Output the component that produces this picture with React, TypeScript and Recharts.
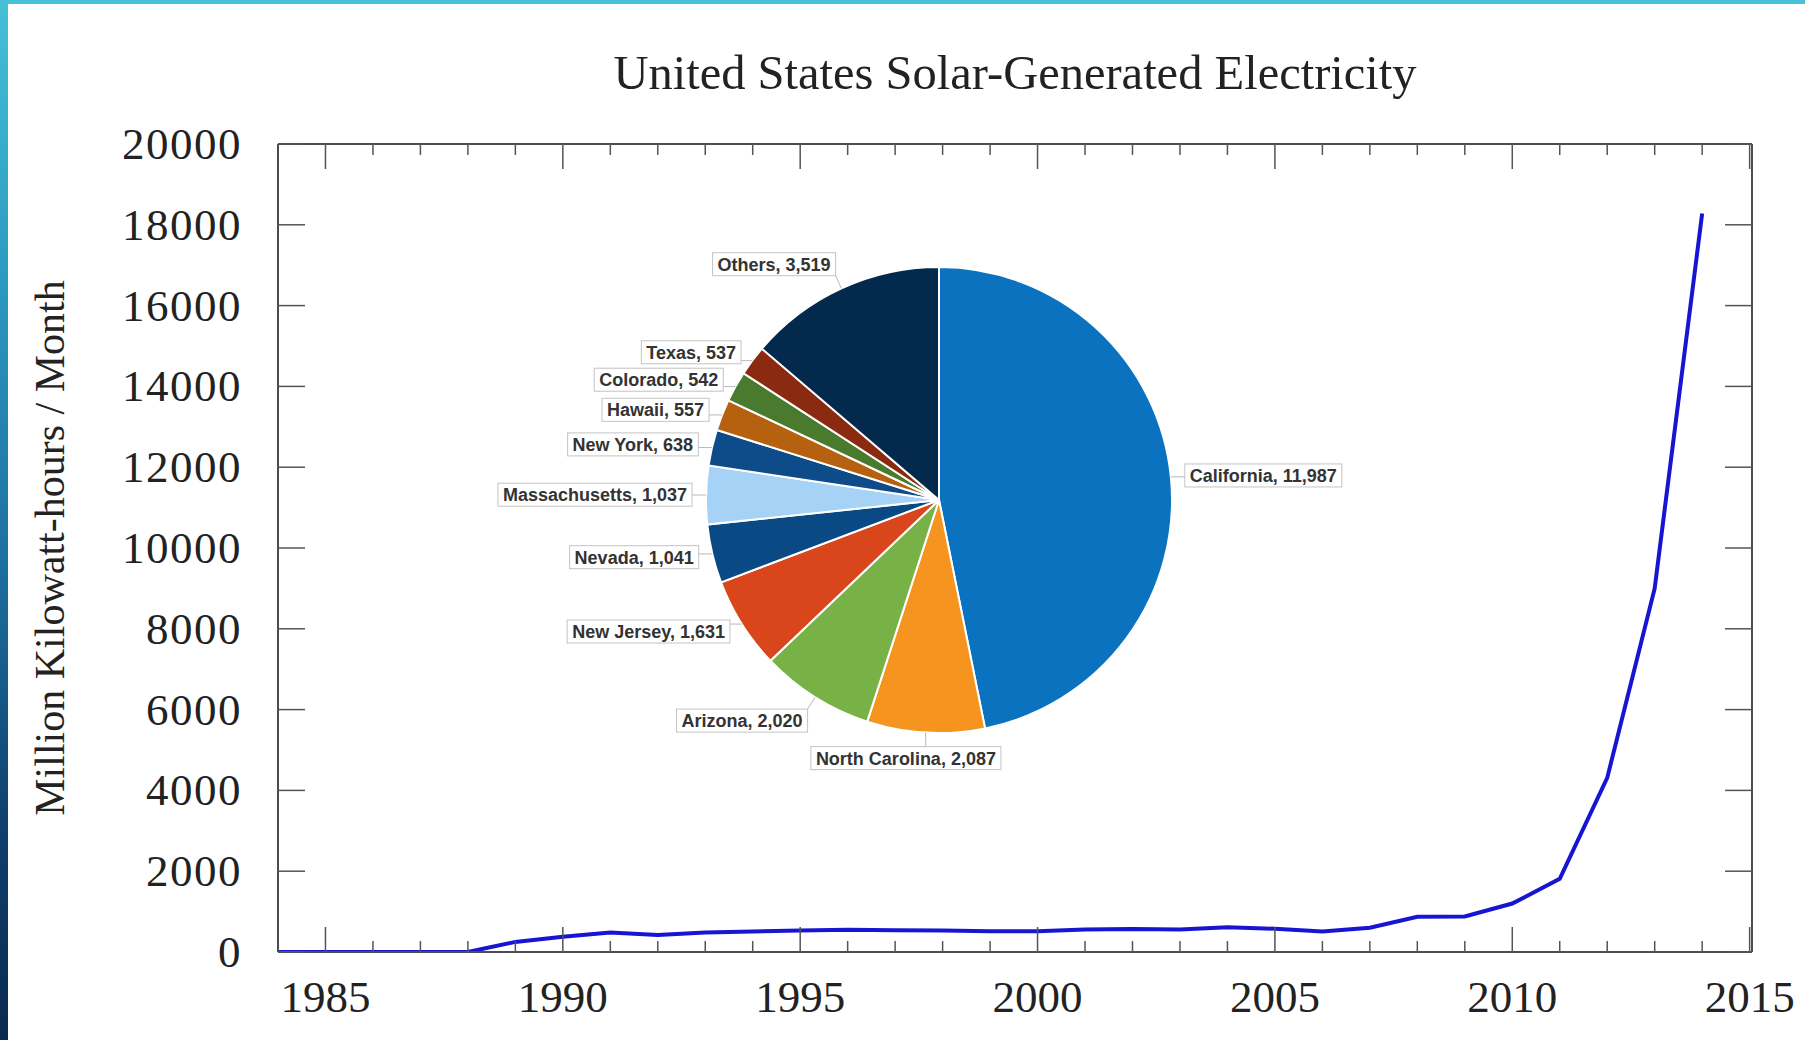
import React from 'react';
import { LineChart, Line, XAxis, YAxis, PieChart, Pie, Cell } from 'recharts';

// ---- Line series: US solar-generated electricity (million kWh / month)
const years = [1984, 1985, 1986, 1987, 1988, 1989, 1990, 1991, 1992, 1993, 1994, 1995, 1996, 1997, 1998, 1999, 2000, 2001, 2002, 2003, 2004, 2005, 2006, 2007, 2008, 2009, 2010, 2011, 2012, 2013, 2014];
const generation = [0, 0, 0, 0, 0, 250, 380, 480, 420, 480, 510, 530, 550, 540, 530, 515, 515, 555, 570, 555, 610, 575, 510, 600, 870, 880, 1200, 1810, 4310, 9000, 18280];

// ---- Axis ticks
const xTicks = [1985, 1986, 1987, 1988, 1989, 1990, 1991, 1992, 1993, 1994, 1995, 1996, 1997, 1998, 1999, 2000, 2001, 2002, 2003, 2004, 2005, 2006, 2007, 2008, 2009, 2010, 2011, 2012, 2013, 2014, 2015];
const xLabelYears = [1985, 1990, 1995, 2000, 2005, 2010, 2015];
const yTicks = [0, 2000, 4000, 6000, 8000, 10000, 12000, 14000, 16000, 18000, 20000];

// ---- Pie: generation by state
const states = ['California', 'North Carolina', 'Arizona', 'New Jersey', 'Nevada', 'Massachusetts', 'New York', 'Hawaii', 'Colorado', 'Texas', 'Others'];
const stateValues = [11987, 2087, 2020, 1631, 1041, 1037, 638, 557, 542, 537, 3519];
const stateColors = ['#0b72c0', '#f5941f', '#78b246', '#d9461b', '#0a4a84', '#a6d3f5', '#0d4c88', '#b5610f', '#4a7a2e', '#8a2a10', '#03294c'];

const TITLE = 'United States Solar-Generated Electricity';
const Y_LABEL = 'Million Kilowatt-hours / Month';

const lineData = years.map((y, i) => ({ year: y, value: generation[i] }));
const pieData = states.map((s, i) => ({ name: s, value: stateValues[i] }));

const SERIF = "'Liberation Serif', 'Times New Roman', serif";
const SANS = "'Liberation Sans', Arial, sans-serif";
const TICK_COLOR = '#555';
const TEXT_COLOR = '#222';

const W = 1805;
const H = 1040;

const BottomTick = (props: any) => {
  const { x, y, payload } = props;
  const major = xLabelYears.includes(payload.value);
  return (
    <g>
      <line x1={x} x2={x} y1={y} y2={y - (major ? 25 : 11)} stroke={TICK_COLOR} strokeWidth={1.5} />
      {major && (
        <text x={x} y={y + 60} textAnchor="middle" fontFamily={SERIF} fontSize={45} fill={TEXT_COLOR}>
          {payload.value}
        </text>
      )}
    </g>
  );
};

const TopTick = (props: any) => {
  const { x, y, payload } = props;
  const major = xLabelYears.includes(payload.value);
  return <line x1={x} x2={x} y1={y} y2={y + (major ? 25 : 11)} stroke={TICK_COLOR} strokeWidth={1.5} />;
};

const LeftTick = (props: any) => {
  const { x, y, payload } = props;
  return (
    <g>
      <line x1={x} x2={x + 27} y1={y} y2={y} stroke={TICK_COLOR} strokeWidth={1.5} />
      <text x={x - 36} y={y} dy={15} textAnchor="end" fontFamily={SERIF} fontSize={45} letterSpacing={1.5} fill={TEXT_COLOR}>
        {payload.value}
      </text>
    </g>
  );
};

const RightTick = (props: any) => {
  const { x, y } = props;
  return <line x1={x} x2={x - 27} y1={y} y2={y} stroke={TICK_COLOR} strokeWidth={1.5} />;
};

let measureCtx: CanvasRenderingContext2D | null = null;
const LABEL_FONT_SIZE = 18;
const measure = (text: string) => {
  if (!measureCtx) {
    const c = document.createElement('canvas');
    measureCtx = c.getContext('2d');
  }
  if (!measureCtx) return text.length * LABEL_FONT_SIZE * 0.55;
  measureCtx.font = `bold ${LABEL_FONT_SIZE}px "Liberation Sans"`;
  return measureCtx.measureText(text).width;
};

const RAD = Math.PI / 180;

const renderPieLabel = (props: any) => {
  const { cx, cy, midAngle, outerRadius, name, value } = props;
  const text = `${name}, ${Number(value).toLocaleString('en-US')}`;
  const w = measure(text) + 10;
  const h = 23;
  const cosA = Math.cos(midAngle * RAD);
  const sinA = Math.sin(midAngle * RAD);
  const R = outerRadius + 14;
  const ax = cx + R * cosA;
  const ay = cy - R * sinA;
  let left: number;
  if (cosA > 0.3) left = ax;
  else if (cosA < -0.3) left = ax - w;
  else left = ax - w * 0.6;
  let top: number;
  if (sinA > 0.8) top = ay - h;
  else if (sinA < -0.8) top = ay;
  else top = ay - h / 2;
  const ex = cx + outerRadius * cosA;
  const ey = cy - outerRadius * sinA;
  const lx = Math.min(Math.max(ex, left), left + w);
  const ly = Math.min(Math.max(ey, top), top + h);
  return (
    <g>
      <line x1={ex} y1={ey} x2={lx} y2={ly} stroke="#b8b8b8" strokeWidth={1} />
      <rect x={left} y={top} width={w} height={h} fill="#fff" stroke="#c4c4c4" strokeWidth={1} />
      <text x={left + 5} y={top + 18} fontFamily={SANS} fontWeight="bold" fontSize={LABEL_FONT_SIZE} fill="#333">
        {text}
      </text>
    </g>
  );
};

const YLabel = (p: any) => {
  const vb = p && p.viewBox && typeof p.viewBox.x === 'number' ? p.viewBox : { x: 0, y: 144, width: 278, height: 808 };
  const x = vb.x + 64;
  const y = vb.y + vb.height / 2;
  return (
    <text x={x} y={y} transform={`rotate(-90 ${x} ${y})`} textAnchor="middle" fontFamily={SERIF} fontSize={42} fill={TEXT_COLOR}>
      {Y_LABEL}
    </text>
  );
};

export default function App() {
  return (
    <div style={{ position: 'absolute', left: 0, top: 0, width: W, height: H, background: '#fff', overflow: 'hidden' }}>
      <div style={{ position: 'absolute', left: 0, top: 0, width: W, height: 4, background: '#48c1d7' }} />
      <div
        style={{
          position: 'absolute',
          left: 0,
          top: 0,
          width: 8,
          height: H,
          background: 'linear-gradient(to bottom, #45c0d7 0%, #2d9cc2 25%, #1c6e9e 55%, #0e3f6c 80%, #0a2a50 100%)',
        }}
      />
      <div style={{ position: 'absolute', left: 0, top: 0 }}>
        <LineChart width={W} height={H} data={lineData} margin={{ top: 124, right: 33, bottom: 0, left: 0 }}>
          <XAxis
            xAxisId="bottom"
            dataKey="year"
            type="number"
            orientation="bottom"
            domain={[1984, 2015.05]}
            ticks={xTicks}
            interval={0}
            height={88}
            tickSize={0}
            tickMargin={0}
            axisLine={{ stroke: '#4d4d4d', strokeWidth: 2 }}
            tickLine={false}
            tick={(p: any) => <BottomTick {...p} />}
            allowDataOverflow
          />
          <XAxis
            xAxisId="top"
            dataKey="year"
            type="number"
            orientation="top"
            domain={[1984, 2015.05]}
            ticks={xTicks}
            interval={0}
            height={20}
            tickSize={0}
            tickMargin={0}
            axisLine={{ stroke: '#4d4d4d', strokeWidth: 2 }}
            tickLine={false}
            tick={(p: any) => <TopTick {...p} />}
            allowDataOverflow
          />
          <YAxis
            yAxisId="left"
            orientation="left"
            type="number"
            domain={[0, 20000]}
            ticks={yTicks}
            interval={0}
            width={278}
            tickSize={0}
            tickMargin={0}
            axisLine={{ stroke: '#4d4d4d', strokeWidth: 2 }}
            tickLine={false}
            tick={(p: any) => <LeftTick {...p} />}
            label={{ content: (p: any) => <YLabel {...p} /> }}
            allowDataOverflow
          />
          <YAxis
            yAxisId="right"
            orientation="right"
            type="number"
            domain={[0, 20000]}
            ticks={yTicks}
            interval={0}
            width={20}
            tickSize={0}
            tickMargin={0}
            axisLine={{ stroke: '#4d4d4d', strokeWidth: 2 }}
            tickLine={false}
            tick={(p: any) => <RightTick {...p} />}
            allowDataOverflow
          />
          <Line
            xAxisId="bottom"
            yAxisId="left"
            type="linear"
            dataKey="value"
            stroke="#1515d2"
            strokeWidth={4}
            dot={false}
            activeDot={false}
            isAnimationActive={false}
          />
        </LineChart>
      </div>
      <svg style={{ position: 'absolute', left: 0, top: 0, pointerEvents: 'none' }} width={W} height={130}>
        <text x={1015} y={89} textAnchor="middle" fontFamily={SERIF} fontSize={48.5} fill={TEXT_COLOR}>
          {TITLE}
        </text>
      </svg>
      <div style={{ position: 'absolute', left: 439, top: 180 }}>
        <PieChart width={1000} height={640} margin={{ top: 0, right: 0, bottom: 0, left: 0 }}>
          <Pie
            data={pieData}
            dataKey="value"
            nameKey="name"
            cx={500}
            cy={320}
            outerRadius={233}
            startAngle={90}
            endAngle={-270}
            stroke="#ffffff"
            strokeWidth={2}
            label={renderPieLabel}
            labelLine={false}
            isAnimationActive={false}
          >
            {pieData.map((d, i) => (
              <Cell key={d.name} fill={stateColors[i]} />
            ))}
          </Pie>
        </PieChart>
      </div>
    </div>
  );
}
